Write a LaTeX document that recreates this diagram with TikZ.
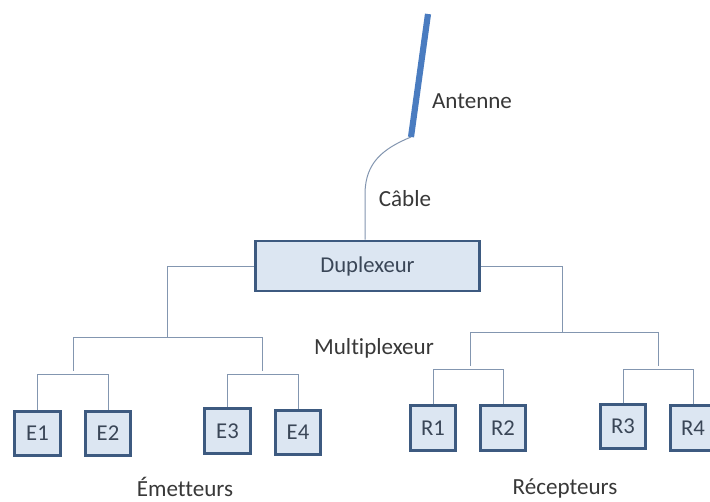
\documentclass[tikz,border=0pt]{standalone}
\usepackage{fontspec}
\setmainfont{Carlito}[Ligatures=NoCommon]
\begin{document}
\begin{tikzpicture}[x=0.75pt,y=-0.75pt,
  lbl/.style={font=\fontsize{17.3pt}{19pt}\selectfont, text=black!78, inner sep=0pt},
  unit/.style={draw=boxedge, fill=boxfill, line width=2.2pt, minimum width=34pt,
    minimum height=33.5pt, inner sep=0pt, font=\fontsize{17pt}{19pt}\selectfont, text=boxtext},
  wire/.style={draw=wirecol, line width=0.75pt}]
\definecolor{boxedge}{HTML}{3D5A80}
\definecolor{boxfill}{HTML}{DCE6F2}
\definecolor{boxtext}{HTML}{3A4657}
\definecolor{wirecol}{HTML}{8396B0}
\definecolor{antcol}{HTML}{4A7CC0}
\clip (0,0) rectangle (710,501);
\fill[white] (0,0) rectangle (710,501);

% antenna mast and cable
\coordinate (anttop) at (428,14);
\coordinate (antbot) at (411,137);
\draw[antcol, line width=4.6pt] (anttop) -- (antbot);
\node[lbl] (antlbl) at (472,101) {Antenne};

% duplexer
\node[unit, minimum width=168pt, minimum height=37.5pt] (dup) at (367.5,266) {Duplexeur};
\draw[wire] (antbot) .. controls (382,149) and (366,163) .. (365,192) -- (dup.north -| 365,0);
\node[lbl] (cablbl) at (405,199) {Câble};
\node[lbl] (muxlbl) at (374,348) {Multiplexeur};

% transmitters
\node[unit] (e1) at (37.5,433.5) {E1};
\node[unit] (e2) at (108,433.5) {E2};
\node[unit] (e3) at (227.5,431) {E3};
\node[unit] (e4) at (298,432.5) {E4};
\node[lbl] (emlbl) at (185,487) {Émetteurs};

% receivers
\node[unit] (r1) at (433,428) {R1};
\node[unit] (r2) at (503,428) {R2};
\node[unit] (r3) at (623,426.5) {R3};
\node[unit] (r4) at (693,428) {R4};
\node[lbl] (reclbl) at (565,488) {Récepteurs};

% transmitter branch
\coordinate (lj) at (167,337);
\coordinate (la) at (73,337);
\coordinate (lb) at (262,337);
\coordinate (la2) at (73,371);
\coordinate (lb2) at (262,371);
\draw[wire] (dup.west) -| (lj);
\draw[wire] (la) -- (lb);
\draw[wire] (la) -- (la2);
\draw[wire] (lb) -- (lb2);
\coordinate (b1) at (0,374);
\draw[wire] (e1.north) -- (e1.north |- b1) -- (e2.north |- b1) -- (e2.north);
\draw[wire] (e3.north) -- (e3.north |- b1) -- (e4.north |- b1) -- (e4.north);

% receiver branch
\coordinate (rj) at (562,332);
\coordinate (ra) at (470,332);
\coordinate (rb) at (658,332);
\coordinate (ra2) at (470,366);
\coordinate (rb2) at (658,366);
\draw[wire] (dup.east) -| (rj);
\draw[wire] (ra) -- (rb);
\draw[wire] (ra) -- (ra2);
\draw[wire] (rb) -- (rb2);
\coordinate (b2) at (0,369);
\draw[wire] (r1.north) -- (r1.north |- b2) -- (r2.north |- b2) -- (r2.north);
\draw[wire] (r3.north) -- (r3.north |- b2) -- (r4.north |- b2) -- (r4.north);
\end{tikzpicture}
\end{document}
